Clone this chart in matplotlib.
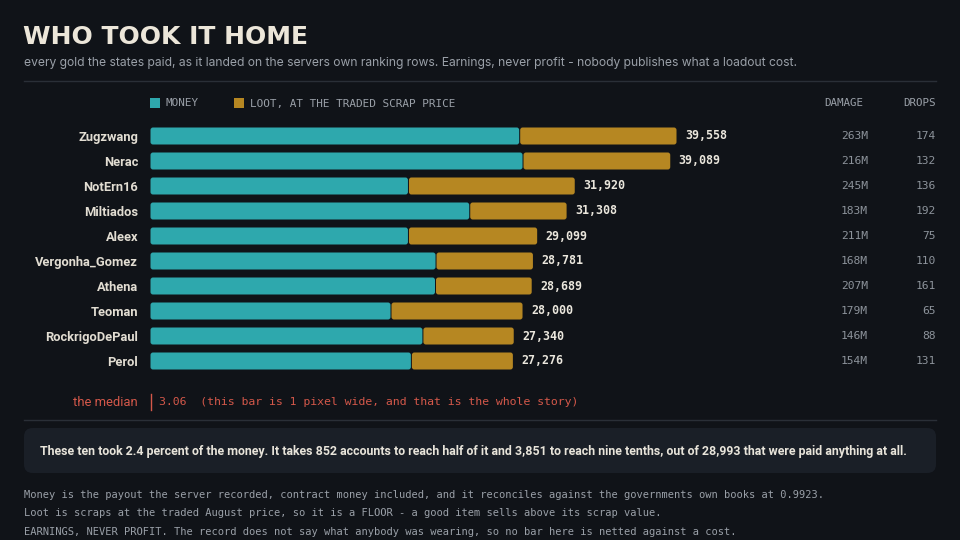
import matplotlib
matplotlib.use("Agg")
import matplotlib.pyplot as plt
from matplotlib.patches import FancyBboxPatch
from matplotlib.lines import Line2D
import matplotlib.transforms as mtransforms

players = ["Zugzwang", "Nerac", "NotErn16", "Miltiados", "Aleex",
           "Vergonha_Gomez", "Athena", "Teoman", "RockrigoDePaul", "Perol"]
totals = [39558, 39089, 31920, 31308, 29099, 28781, 28689, 28000, 27340, 27276]
money = [27750, 28000, 19400, 24000, 19400, 21470, 21430, 18090, 20485, 19620]
damage = ["263M", "216M", "245M", "183M", "211M", "168M", "207M", "179M", "146M", "154M"]
drops = [174, 132, 136, 192, 75, 110, 161, 65, 88, 131]
median_value = 3.06
loot = [t - m for t, m in zip(totals, money)]

BG = "#101318"
TEAL = "#2ea8ad"
GOLD = "#b68722"
CREAM = "#ece6d9"
GRAY = "#9aa0a8"
DIM = "#8d939b"
RED = "#d4584a"
LINE = "#2a2f37"
BOX = "#1a1f27"

W, H = 960, 540
fig = plt.figure(figsize=(9.6, 5.4), dpi=100, facecolor=BG)

def fx(x):
    return x / W

def fy(y):
    return 1 - y / H

MONO = ["DejaVu Sans Mono"]
COND = ["Roboto", "DejaVu Sans"]

# title and subtitle
fig.text(fx(23), fy(37), "WHO TOOK IT HOME", color=CREAM, fontsize=18,
         fontweight="bold", family=["DejaVu Sans"], va="center", ha="left")
fig.text(fx(24), fy(63), "every gold the states paid, as it landed on the servers own ranking rows. "
         "Earnings, never profit - nobody publishes what a loadout cost.",
         color=GRAY, fontsize=8.73, family=["Inter", "DejaVu Sans"], va="center", ha="left")
fig.add_artist(Line2D([fx(24), fx(936)], [fy(80.5), fy(80.5)], color=LINE, lw=1))

# legend
fig.add_artist(FancyBboxPatch((fx(150), fy(108)), fx(10), 10 / H, boxstyle="square,pad=0",
                              fc=TEAL, ec="none"))
fig.text(fx(166), fy(103.5), "MONEY", color=GRAY, fontsize=7.9, family=MONO, va="center")
fig.add_artist(FancyBboxPatch((fx(234), fy(108)), fx(10), 10 / H, boxstyle="square,pad=0",
                              fc=GOLD, ec="none"))
fig.text(fx(250), fy(103.5), "LOOT, AT THE TRADED SCRAP PRICE", color=GRAY, fontsize=7.9,
         family=MONO, va="center")
fig.text(fx(863), fy(103.5), "DAMAGE", color=GRAY, fontsize=7.8, family=MONO, va="center", ha="right")
fig.text(fx(936), fy(103.5), "DROPS", color=GRAY, fontsize=7.8, family=MONO, va="center", ha="right")

# bars axes
x0, x1 = 150, 677
top, bottom = 123.5, 373.5
ax = fig.add_axes([fx(x0), fy(bottom), (x1 - x0) / W, (bottom - top) / H])
ax.set_facecolor("none")
ax.set_xlim(0, totals[0])
ax.set_ylim(len(players) - 0.5, -0.5)
for s in ax.spines.values():
    s.set_visible(False)
ax.set_xticks([])
ys = list(range(len(players)))
bars_m = ax.barh(ys, money, height=0.68, color=TEAL)
bars_l = ax.barh(ys, loot, left=money, height=0.68, color=GOLD)

# round the bar corners slightly
xpp = totals[0] / (x1 - x0)          # data units per pixel in x
ypp = len(players) / (bottom - top)  # data units per pixel in y
for cont, col in ((bars_m, TEAL), (bars_l, GOLD)):
    for rect in cont:
        rect.set_visible(False)
        p = FancyBboxPatch((rect.get_x() + 0.5 * xpp, rect.get_y()), rect.get_width() - 1.0 * xpp,
                           rect.get_height(),
                           boxstyle=f"round,pad=0,rounding_size={2.5 * xpp}",
                           mutation_aspect=ypp / xpp, fc=col, ec="none")
        ax.add_patch(p)

ax.set_yticks(ys)
ax.set_yticklabels(players, family=COND, fontweight="bold", fontsize=9.3, color="#e2ddd2")
ax.tick_params(axis="y", length=0, pad=8.6)

for i, t in enumerate(totals):
    ax.annotate(f"{t:,}", (t, i), xytext=(5.8, 0), textcoords="offset points",
                color="#ebe7dd", fontsize=8.4, fontweight="bold", family=MONO,
                va="center", ha="left", annotation_clip=False)

tr = mtransforms.blended_transform_factory(fig.transFigure, ax.transData)
for i in ys:
    ax.text(fx(868), i, damage[i], transform=tr, color=DIM, fontsize=8.1, family=MONO,
            va="center", ha="right", clip_on=False)
    ax.text(fx(936), i, str(drops[i]), transform=tr, color=DIM, fontsize=8.1, family=MONO,
            va="center", ha="right", clip_on=False)

# median row
fig.text(fx(138), fy(402), "the median", color=RED, fontsize=9.4, family=COND,
         va="center", ha="right")
fig.add_artist(Line2D([fx(150.5), fx(150.5)], [fy(394), fy(410)], color=RED, lw=1))
fig.text(fx(159), fy(402), f"{median_value:.2f}  (this bar is 1 pixel wide, and that is the whole story)",
         color=RED, fontsize=8.25, family=MONO, va="center", ha="left")

fig.add_artist(Line2D([fx(24), fx(936)], [fy(419.5), fy(419.5)], color=LINE, lw=1))

# callout box
box = FancyBboxPatch((fx(24), fy(473)), fx(912), 45 / H,
                     boxstyle="round,pad=0,rounding_size=0.009",
                     fc=BOX, ec="none", mutation_aspect=W / H)
fig.add_artist(box)
fig.text(fx(40), fy(451), "These ten took 2.4 percent of the money. It takes 852 accounts to reach half of it "
         "and 3,851 to reach nine tenths, out of 28,993 that were paid anything at all.",
         color="#e8e4da", fontsize=8.95, fontweight="bold", family=COND, va="center", ha="left")

notes = [
    "Money is the payout the server recorded, contract money included, and it reconciles against the governments own books at 0.9923.",
    "Loot is scraps at the traded August price, so it is a FLOOR - a good item sells above its scrap value.",
    "EARNINGS, NEVER PROFIT. The record does not say what anybody was wearing, so no bar here is netted against a cost.",
]
for k, line in enumerate(notes):
    fig.text(fx(24), fy(495 + 18.5 * k), line, color=GRAY, fontsize=7.5, family=MONO,
             va="center", ha="left")

fig.savefig("out.png", dpi=100, facecolor=BG)
